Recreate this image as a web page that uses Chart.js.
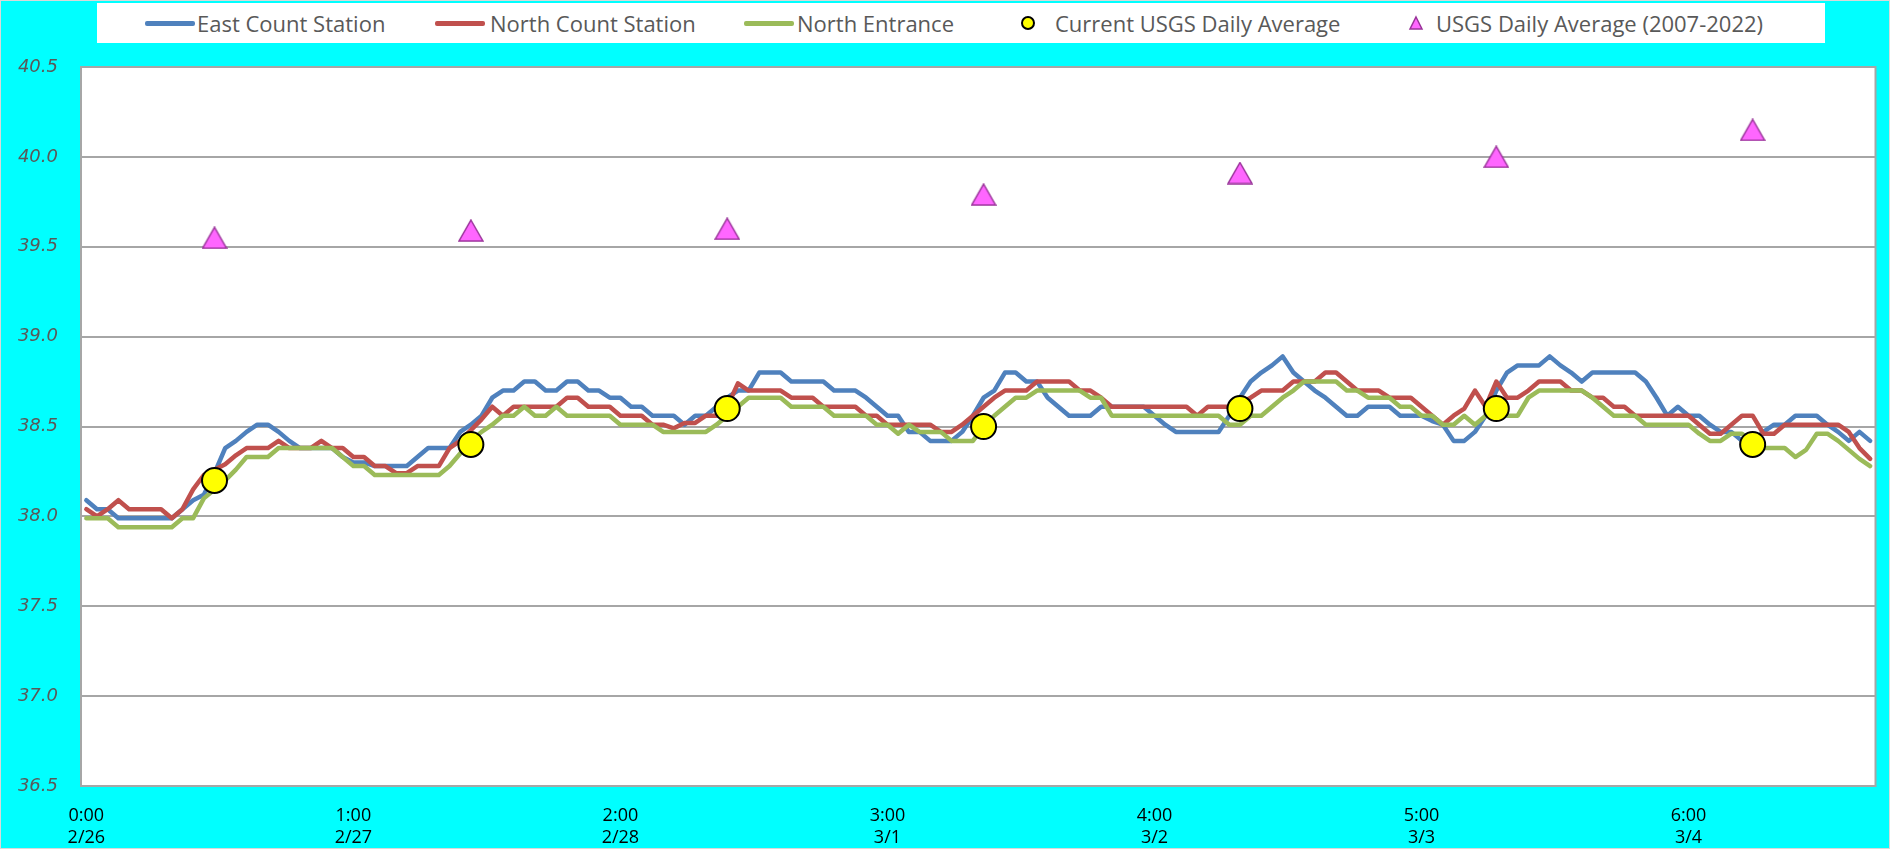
<!DOCTYPE html>
<html lang="en">
<head>
    <meta charset="UTF-8">
    <title>Water Temperature - Count Stations</title>
    <script src="https://cdn.jsdelivr.net/npm/chart.js"></script>
    <style>
        html, body { margin: 0; padding: 0; background: #00FFFF; }
        #wrap { position: relative; width: 1890px; height: 849px; }
        #legend {
            position: absolute; left: 97px; top: 3px; width: 1728px; height: 40px;
            background: #fff; font-family: "Liberation Sans Narrow", "Open Sans", sans-serif;
            font-size: 22px; color: #595959;
        }
        .item { position: absolute; top: 0; height: 40px; line-height: 40px; white-space: nowrap; }
        .swatch { position: absolute; top: 18px; width: 50px; height: 5px; border-radius: 2px; }
    </style>
</head>
<body>
<div id="wrap">
    <canvas id="chart" width="1890" height="849"></canvas>
    <div id="legend">
        <div class="swatch" style="left:48px;background:#4F81BD"></div>
        <div class="item" style="left:100px">East Count Station</div>
        <div class="swatch" style="left:338px;background:#C0504D"></div>
        <div class="item" style="left:393px">North Count Station</div>
        <div class="swatch" style="left:647px;background:#9BBB59"></div>
        <div class="item" style="left:700px">North Entrance</div>
        <svg style="position:absolute;left:923px;top:12px" width="16" height="16"><circle cx="8" cy="8" r="6" fill="#FFFF00" stroke="#000" stroke-width="2"/></svg>
        <div class="item" style="left:958px">Current USGS Daily Average</div>
        <svg style="position:absolute;left:1311px;top:12px" width="16" height="16"><polygon points="8,2 14,14 2,14" fill="#FF66FF" stroke="#993399" stroke-width="1.5"/></svg>
        <div class="item" style="left:1339px">USGS Daily Average (2007-2022)</div>
    </div>
</div>
<script>
// hourly readings, 0:00 2/26 through 23:00 3/4
const east = [
    38.09, 38.04, 38.04, 37.99, 37.99, 37.99, 37.99, 37.99, 37.99, 38.04,
    38.09, 38.12, 38.24, 38.38, 38.42, 38.47, 38.51, 38.51, 38.47, 38.42,
    38.38, 38.38, 38.38, 38.38, 38.33, 38.30, 38.30, 38.28, 38.28, 38.28,
    38.28, 38.33, 38.38, 38.38, 38.38, 38.47, 38.51, 38.56, 38.66, 38.70,
    38.70, 38.75, 38.75, 38.70, 38.70, 38.75, 38.75, 38.70, 38.70, 38.66,
    38.66, 38.61, 38.61, 38.56, 38.56, 38.56, 38.51, 38.56, 38.56, 38.61,
    38.66, 38.70, 38.70, 38.80, 38.80, 38.80, 38.75, 38.75, 38.75, 38.75,
    38.70, 38.70, 38.70, 38.66, 38.61, 38.56, 38.56, 38.47, 38.47, 38.42,
    38.42, 38.42, 38.47, 38.56, 38.66, 38.70, 38.80, 38.80, 38.75, 38.75,
    38.66, 38.61, 38.56, 38.56, 38.56, 38.61, 38.61, 38.61, 38.61, 38.61,
    38.56, 38.51, 38.47, 38.47, 38.47, 38.47, 38.47, 38.56, 38.66, 38.75,
    38.80, 38.84, 38.89, 38.80, 38.75, 38.70, 38.66, 38.61, 38.56, 38.56,
    38.61, 38.61, 38.61, 38.56, 38.56, 38.56, 38.53, 38.51, 38.42, 38.42,
    38.47, 38.56, 38.70, 38.80, 38.84, 38.84, 38.84, 38.89, 38.84, 38.80,
    38.75, 38.80, 38.80, 38.80, 38.80, 38.80, 38.75, 38.66, 38.56, 38.61,
    38.56, 38.56, 38.51, 38.47, 38.47, 38.42, 38.42, 38.47, 38.51, 38.51,
    38.56, 38.56, 38.56, 38.51, 38.47, 38.42, 38.47, 38.42
];
const northStation = [
    38.04, 38.00, 38.04, 38.09, 38.04, 38.04, 38.04, 38.04, 37.99, 38.04,
    38.15, 38.23, 38.26, 38.29, 38.34, 38.38, 38.38, 38.38, 38.42, 38.38,
    38.38, 38.38, 38.42, 38.38, 38.38, 38.33, 38.33, 38.28, 38.28, 38.24,
    38.24, 38.28, 38.28, 38.28, 38.38, 38.42, 38.48, 38.54, 38.61, 38.56,
    38.61, 38.61, 38.61, 38.61, 38.61, 38.66, 38.66, 38.61, 38.61, 38.61,
    38.56, 38.56, 38.56, 38.51, 38.51, 38.49, 38.52, 38.52, 38.56, 38.56,
    38.61, 38.74, 38.70, 38.70, 38.70, 38.70, 38.66, 38.66, 38.66, 38.61,
    38.61, 38.61, 38.61, 38.56, 38.56, 38.51, 38.51, 38.51, 38.51, 38.51,
    38.47, 38.47, 38.51, 38.56, 38.61, 38.66, 38.70, 38.70, 38.70, 38.75,
    38.75, 38.75, 38.75, 38.70, 38.70, 38.66, 38.61, 38.61, 38.61, 38.61,
    38.61, 38.61, 38.61, 38.61, 38.56, 38.61, 38.61, 38.61, 38.63, 38.66,
    38.70, 38.70, 38.70, 38.75, 38.75, 38.75, 38.80, 38.80, 38.75, 38.70,
    38.70, 38.70, 38.66, 38.66, 38.66, 38.61, 38.56, 38.51, 38.56, 38.60,
    38.70, 38.61, 38.75, 38.66, 38.66, 38.70, 38.75, 38.75, 38.75, 38.70,
    38.70, 38.66, 38.66, 38.61, 38.61, 38.56, 38.56, 38.56, 38.56, 38.56,
    38.56, 38.51, 38.46, 38.46, 38.51, 38.56, 38.56, 38.46, 38.46, 38.51,
    38.51, 38.51, 38.51, 38.51, 38.51, 38.47, 38.38, 38.32
];
const northEntrance = [
    37.99, 37.99, 37.99, 37.94, 37.94, 37.94, 37.94, 37.94, 37.94, 37.99,
    37.99, 38.10, 38.15, 38.20, 38.26, 38.33, 38.33, 38.33, 38.38, 38.38,
    38.38, 38.38, 38.38, 38.38, 38.33, 38.28, 38.28, 38.23, 38.23, 38.23,
    38.23, 38.23, 38.23, 38.23, 38.28, 38.35, 38.42, 38.47, 38.51, 38.56,
    38.56, 38.61, 38.56, 38.56, 38.61, 38.56, 38.56, 38.56, 38.56, 38.56,
    38.51, 38.51, 38.51, 38.51, 38.47, 38.47, 38.47, 38.47, 38.47, 38.51,
    38.56, 38.61, 38.66, 38.66, 38.66, 38.66, 38.61, 38.61, 38.61, 38.61,
    38.56, 38.56, 38.56, 38.56, 38.51, 38.51, 38.46, 38.51, 38.47, 38.47,
    38.47, 38.42, 38.42, 38.42, 38.50, 38.56, 38.61, 38.66, 38.66, 38.70,
    38.70, 38.70, 38.70, 38.70, 38.66, 38.66, 38.56, 38.56, 38.56, 38.56,
    38.56, 38.56, 38.56, 38.56, 38.56, 38.56, 38.56, 38.51, 38.51, 38.56,
    38.56, 38.61, 38.66, 38.70, 38.75, 38.75, 38.75, 38.75, 38.70, 38.70,
    38.66, 38.66, 38.66, 38.61, 38.61, 38.56, 38.56, 38.51, 38.51, 38.56,
    38.51, 38.56, 38.58, 38.56, 38.56, 38.66, 38.70, 38.70, 38.70, 38.70,
    38.70, 38.66, 38.61, 38.56, 38.56, 38.56, 38.51, 38.51, 38.51, 38.51,
    38.51, 38.46, 38.42, 38.42, 38.46, 38.46, 38.41, 38.38, 38.38, 38.38,
    38.33, 38.37, 38.46, 38.46, 38.42, 38.37, 38.32, 38.28
];
// daily averages, plotted at noon of each day
const avgHours = [12, 36, 60, 84, 108, 132, 156];
const currentAvg = [38.2, 38.4, 38.6, 38.5, 38.6, 38.6, 38.4];
const historicAvg = [39.55, 39.59, 39.60, 39.79, 39.91, 40.00, 40.15];
const tickLabels = [
    ['0:00', '2/26'], ['1:00', '2/27'], ['2:00', '2/28'], ['3:00', '3/1'],
    ['4:00', '3/2'], ['5:00', '3/3'], ['6:00', '3/4']
];
const tickEvery = 25;

const hours = east.map((v, i) => i);

const lineStyle = { pointRadius: 0, borderWidth: 4.5, tension: 0, borderJoinStyle: 'round', borderCapStyle: 'round', fill: false };

// triangle marker centred on its box, like the spreadsheet one
function triangleMarker(w, h) {
    const c = document.createElement('canvas');
    c.width = w; c.height = h;
    const g = c.getContext('2d');
    g.beginPath();
    g.moveTo(w / 2, 1);
    g.lineTo(w - 1, h - 1);
    g.lineTo(1, h - 1);
    g.closePath();
    g.fillStyle = '#FF66FF';
    g.fill();
    g.strokeStyle = '#993399';
    g.lineWidth = 1.5;
    g.stroke();
    return c;
}

const backdrop = {
    id: 'backdrop',
    beforeDraw(chart) {
        const { ctx, chartArea: a } = chart;
        ctx.save();
        ctx.fillStyle = '#00FFFF';
        ctx.fillRect(0, 0, chart.width, chart.height);
        ctx.strokeStyle = '#D9D9D9';
        ctx.lineWidth = 1;
        ctx.strokeRect(0.5, 0.5, chart.width - 1, chart.height - 1);
        ctx.fillStyle = '#FFFFFF';
        ctx.fillRect(a.left, a.top, a.right - a.left, a.bottom - a.top);
        ctx.restore();
    },
    beforeDatasetsDraw(chart) {
        const { ctx, chartArea: a } = chart;
        ctx.save();
        ctx.strokeStyle = '#A6A6A6';
        ctx.lineWidth = 2;
        ctx.strokeRect(a.left, a.top, a.right - a.left, a.bottom - a.top);
        ctx.restore();
    }
};

new Chart(document.getElementById('chart'), {
    type: 'line',
    data: {
        labels: hours,
        datasets: [
            { label: 'East Count Station', data: east, borderColor: '#4F81BD', order: 4, ...lineStyle },
            { label: 'North Count Station', data: northStation, borderColor: '#C0504D', order: 3, ...lineStyle },
            { label: 'North Entrance', data: northEntrance, borderColor: '#9BBB59', order: 2, ...lineStyle },
            {
                label: 'Current USGS Daily Average',
                data: avgHours.map((h, i) => ({ x: h, y: currentAvg[i] })),
                showLine: false, pointStyle: 'circle', pointRadius: 12.5,
                pointBackgroundColor: '#FFFF00', pointBorderColor: '#000000', pointBorderWidth: 2, order: 0
            },
            {
                label: 'USGS Daily Average (2007-2022)',
                data: avgHours.map((h, i) => ({ x: h, y: historicAvg[i] })),
                showLine: false, pointStyle: triangleMarker(26, 23), pointRadius: 12, order: 1
            }
        ]
    },
    options: {
        responsive: false,
        animation: false,
        events: [],
        layout: { padding: { top: 67, right: 9, bottom: 0, left: 0 } },
        plugins: { legend: { display: false }, tooltip: { enabled: false } },
        scales: {
            x: {
                type: 'category',
                offset: true,
                grid: { display: false },
                border: { display: false },
                afterFit: (s) => { s.height = 63; },
                ticks: {
                    autoSkip: false,
                    maxRotation: 0,
                    padding: 11,
                    color: '#000000',
                    font: { family: '"Liberation Sans Narrow", "Open Sans", sans-serif', size: 18, lineHeight: 1.2 },
                    callback: (v, i) => (i % tickEvery === 0 ? tickLabels[i / tickEvery] : null)
                }
            },
            y: {
                min: 36.5,
                max: 40.5,
                afterFit: (s) => { s.width = 81; },
                grid: { color: '#A6A6A6', lineWidth: 2, drawTicks: false },
                border: { color: '#A6A6A6', width: 2 },
                ticks: {
                    stepSize: 0.5,
                    padding: 23,
                    color: '#595959',
                    font: { family: '"DejaVu Sans"', size: 18, style: 'italic' },
                    callback: (v) => v.toFixed(1)
                }
            }
        }
    },
    plugins: [backdrop]
});
</script>
</body>
</html>
